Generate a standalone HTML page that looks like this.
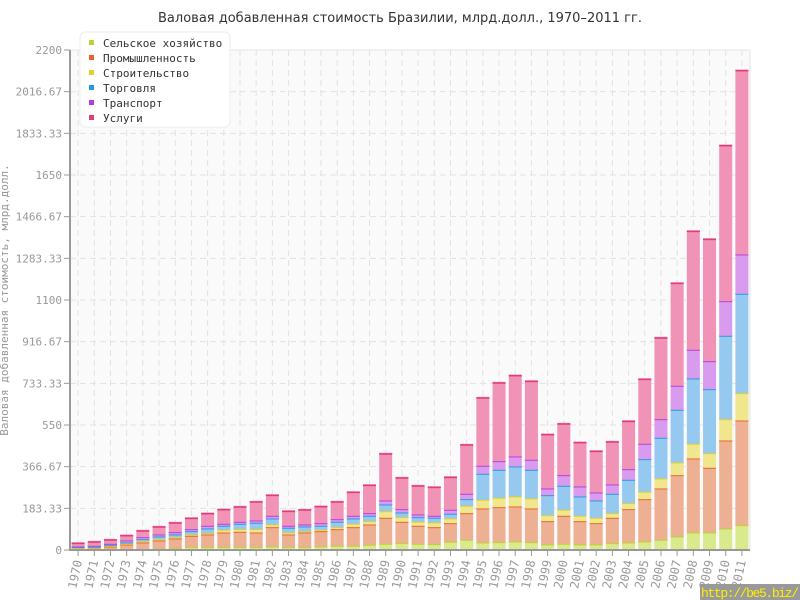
<!DOCTYPE html>
<html><head><meta charset="utf-8"><style>
html,body{margin:0;padding:0;background:#fff;width:800px;height:600px;overflow:hidden}
svg{display:block;font-family:"DejaVu Sans","Liberation Sans",sans-serif}
</style></head><body>
<svg id="c" width="800" height="600" xmlns="http://www.w3.org/2000/svg">
<text x="400" y="22" text-anchor="middle" font-size="13" fill="#333">Валовая добавленная стоимость Бразилии, млрд.долл., 1970–2011 гг.</text>
<rect x="70" y="50" width="680" height="500" fill="#fafafa" stroke="#e4e4e4"/>
<g id="grid"></g><g id="bars"></g>
<line x1="70" y1="50" x2="70" y2="551" stroke="#999" stroke-width="2"/>
<line x1="69" y1="550" x2="750" y2="550" stroke="#999" stroke-width="2"/>
<g id="ax" font-family="DejaVu Sans Mono, Liberation Mono, monospace" font-size="11" fill="#999"></g>
<text transform="translate(8,300) rotate(-90)" text-anchor="middle" font-size="11" fill="#999" font-family="DejaVu Sans Mono, Liberation Mono, monospace">Валовая добавленная стоимость, млрд.долл.</text>
<g font-family="DejaVu Sans Mono, Liberation Mono, monospace">
<rect x="80" y="32" width="150" height="95" rx="5" fill="#fff" stroke="#eee"/>
<rect x="89" y="40" width="5" height="5" fill="#b7d531"/><text x="103" y="47" font-size="11" fill="#333">Сельское хозяйство</text>
<rect x="89" y="55" width="5" height="5" fill="#e8622a"/><text x="103" y="62" font-size="11" fill="#333">Промышленность</text>
<rect x="89" y="70" width="5" height="5" fill="#e3d22a"/><text x="103" y="77" font-size="11" fill="#333">Строительство</text>
<rect x="89" y="85" width="5" height="5" fill="#2a97e0"/><text x="103" y="92" font-size="11" fill="#333">Торговля</text>
<rect x="89" y="100" width="5" height="5" fill="#b63ce0"/><text x="103" y="107" font-size="11" fill="#333">Транспорт</text>
<rect x="89" y="115" width="5" height="5" fill="#e23a7a"/><text x="103" y="122" font-size="11" fill="#333">Услуги</text>
</g>
<rect x="700" y="584" width="100" height="16" fill="#999"/>
<text x="701" y="597" font-size="13" fill="#ffee00" font-family="Liberation Mono, monospace" textLength="98">http://be5.biz/</text>
</svg>
<script>
var NS="http://www.w3.org/2000/svg";
function el(p,t,a,txt){var e=document.createElementNS(NS,t);for(var k in a)e.setAttribute(k,a[k]);if(txt!=null)e.textContent=txt;p.appendChild(e);return e;}
var D=[
[549.3,548.3,547.7,546.7,546,542.7],
[549,548,547.3,546.3,545.3,541.3],
[548.7,546,545.3,544.3,543.3,539.3],
[548.7,544,543.3,542,540,535],
[548.7,542,540.7,538.7,536.7,530.3],
[548,540,538.7,536,534,526.3],
[547.7,538,536.7,534,531.7,522.3],
[546.7,535.3,534,530.7,528.7,517.7],
[546.7,534,532.7,528,525.3,513],
[546.7,532,529.3,525.3,523.3,509],
[546.7,531.3,528.7,523.3,521.3,506.3],
[546.7,532,528.7,522.3,520,501.3],
[546,526.7,524,518,515.3,494.7],
[546.7,534,532,527.3,525.3,510.7],
[546.7,532,530.7,526,524,509.3],
[546,530.7,529.3,525.3,522.7,506],
[545.3,528.7,526.7,521.3,518.7,501.3],
[545.3,526.7,523.3,518,515.3,491.7],
[544.3,524,520.7,515.3,512.7,484.7],
[543.3,517.3,510.7,504,500,453.3],
[542.7,521.3,516.7,512,508.7,477.3],
[543.3,525.3,521.3,516.7,514,485.3],
[543.7,526.7,522,517.3,515.3,486.7],
[541.3,522.7,518,513.3,509.3,476.7],
[539.3,512.7,505.3,498.7,493.3,444.3],
[542,508,499.3,473.3,465.3,397.3],
[541.7,506.7,497.3,469.3,460.7,382.3],
[541,506,496,466,456,375],
[541.7,508,498,469.3,459.3,380.7],
[544,520.7,514.7,494.7,488,434],
[543.3,515.3,509.3,485.3,474.7,423.3],
[544,520.7,515.3,496,486,442],
[544,522.7,517.3,500,492,450.7],
[542.7,517.3,512.7,493.3,484,441.3],
[542,508.7,502.7,479.3,468.7,420.7],
[541,498.7,491.3,458.7,443.3,378.7],
[539.3,488,478,437.3,418.7,337.3],
[536,474.7,462,409.3,385.3,282.7],
[532,458,443.3,378,349.3,230.7],
[532,467.3,452.7,388.7,360.7,238.7],
[528,440,418.7,335.3,300.7,145],
[524.7,420,392.7,293.3,254,70]];
var F=["#d9ea8c","#eeb092","#efe68e","#96c9ef","#d89bee","#f093b6"];
var S=["#b7d531","#e8622a","#e3d22a","#2a97e0","#b63ce0","#e23a7a"];
var g=document.getElementById("grid"),b=document.getElementById("bars"),ax=document.getElementById("ax");
var w=680/42;
var yl=["2200","2016.67","1833.33","1650","1466.67","1283.33","1100","916.67","733.33","550","366.67","183.33","0"];
for(var i=0;i<13;i++){var y=50+i*500/12;
 if(i>0&&i<12)el(g,"line",{x1:70,y1:y,x2:750,y2:y,stroke:"#e2e2e2","stroke-dasharray":"6,4"});
 el(ax,"line",{x1:64,y1:y,x2:70,y2:y,stroke:"#999"});
 el(ax,"text",{x:62,y:y+4,"text-anchor":"end"},yl[i]);}
for(var j=0;j<42;j++){var cx=70+w*(j+0.5);
 el(g,"line",{x1:cx,y1:50,x2:cx,y2:550,stroke:"#e2e2e2","stroke-dasharray":"6,4"});
 el(ax,"line",{x1:cx,y1:550,x2:cx,y2:556,stroke:"#999"});
 el(ax,"text",{transform:"translate("+(cx+4)+",561) rotate(-78)","text-anchor":"end","font-size":"12"},String(1970+j));
 var prev=550,d=D[j];
 for(var k=0;k<6;k++){var t=d[k];var h=prev-t;if(h>0.2){
  el(b,"rect",{x:cx-6,y:t,width:12,height:h,fill:F[k],stroke:F[k],"stroke-width":1});
  el(b,"line",{x1:cx-6.5,y1:t+0.7,x2:cx+6.5,y2:t+0.7,stroke:S[k],"stroke-width":1.5});}
  prev=t;}}
</script>
</body></html>
